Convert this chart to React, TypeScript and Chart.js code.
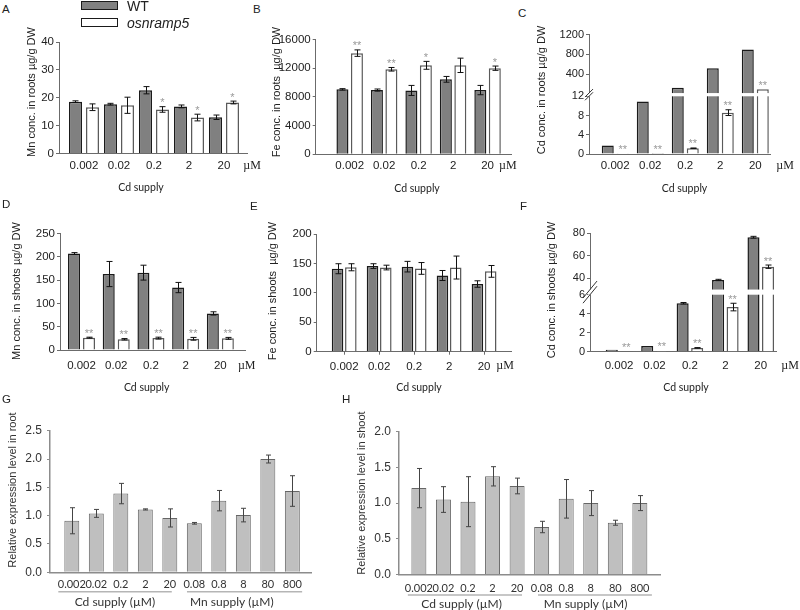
import React, { useEffect, useRef } from "react";
import { Chart, registerables, LinearScale } from "chart.js";

Chart.register(...registerables);

// ---------- data ----------
const cdSupply = ["0.002", "0.02", "0.2", "2", "20"];
const mnSupply = ["0.08", "0.8", "8", "80", "800"];
const exprLabels = [...cdSupply, ...mnSupply];

// A: Mn in roots
const mnRootWT = [18.6, 17.7, 22.7, 16.9, 13.0];
const mnRootWTErr = [0.3, 0.3, 1.3, 0.5, 0.8];
const mnRootMut = [16.6, 17.3, 15.8, 12.9, 18.3];
const mnRootMutErr = [1.2, 2.9, 1.0, 1.2, 0.5];
const mnRootSig = ["", "", "*", "*", "*"];
const mnRootTicks = [0, 10, 20, 30, 40];

// B: Fe in roots
const feRootWT = [9050, 8950, 8900, 10450, 8950];
const feRootWTErr = [100, 150, 700, 400, 650];
const feRootMut = [14100, 11850, 12400, 12400, 12000];
const feRootMutErr = [450, 250, 550, 1000, 300];
const feRootSig = ["**", "**", "*", "", "*"];
const feRootTicks = [0, 4000, 8000, 12000, 16000];

// C: Cd in roots (broken axis)
const cdRootWT = [1.75, 10.9, 122, 515, 900];
const cdRootWTErr = [0, 0, 0, 0, 0];
const cdRootMut = [0.05, 0.2, 1.2, 8.6, 88];
const cdRootMutErr = [0, 0, 0.05, 0.6, 0];
const cdRootSig = ["**", "**", "**", "**", "**"];
const cdRootTicks = [0, 4, 8, 12, 400, 800, 1200];

// D: Mn in shoots
const mnShootWT = [207, 163, 166, 134, 78.5];
const mnShootWTErr = [2, 27, 16, 11, 3.5];
const mnShootMut = [26.5, 23, 25.5, 24, 25];
const mnShootMutErr = [1, 1.5, 2, 3, 2];
const mnShootSig = ["**", "**", "**", "**", "**"];
const mnShootTicks = [0, 50, 100, 150, 200, 250];

// E: Fe in shoots
const feShootWT = [141, 145.5, 144.5, 129.5, 115];
const feShootWTErr = [8.5, 4, 9, 8.5, 5.5];
const feShootMut = [143.5, 143, 141.5, 143, 136.5];
const feShootMutErr = [6, 4, 10, 19.5, 10];
const feShootTicks = [0, 50, 100, 150, 200];

// F: Cd in shoots (broken axis)
const cdShootWT = [0.2, 0.6, 5.1, 38.5, 76.5];
const cdShootWTErr = [0, 0, 0.08, 0.6, 0.8];
const cdShootMut = [0.03, 0.08, 0.4, 4.7, 50.3];
const cdShootMutErr = [0, 0, 0.03, 0.4, 1.5];
const cdShootSig = ["**", "**", "**", "**", "**"];
const cdShootTicks = [0, 2, 4, 6, 40, 60, 80];

// G / H: relative expression
const exprRoot = [0.91, 1.04, 1.39, 1.11, 0.96, 0.865, 1.265, 1.01, 2.0, 1.435];
const exprRootErr = [0.23, 0.07, 0.18, 0.01, 0.16, 0.015, 0.18, 0.12, 0.07, 0.27];
const exprRootTicks = [0, 0.5, 1, 1.5, 2, 2.5];
const exprShoot = [1.21, 1.05, 1.02, 1.375, 1.24, 0.665, 1.06, 1.0, 0.725, 1.0];
const exprShootErr = [0.275, 0.18, 0.35, 0.135, 0.11, 0.08, 0.27, 0.175, 0.035, 0.105];
const exprShootTicks = [0, 0.5, 1, 1.5, 2];

// ---------- broken linear scale ----------
class BrokenLinearScale extends LinearScale {
  static id = "brokenLinear";
  static defaults = (LinearScale as any).defaults;
  brkDec(value: number): number {
    const b = (this.options as any).brk;
    const min = (this as any).min, max = (this as any).max;
    if (value <= b.low) return ((value - min) / (b.low - min)) * b.lowFrac;
    if (value < b.high) return b.lowFrac + ((value - b.low) / (b.high - b.low)) * (b.highFrac - b.lowFrac);
    return b.highFrac + ((value - b.high) / (max - b.high)) * (1 - b.highFrac);
  }
  getPixelForValue(value: number) {
    if (value === null || value === undefined || isNaN(value)) return NaN;
    return (this as any).getPixelForDecimal(this.brkDec(value));
  }
  getValueForPixel(pixel: number) {
    const b = (this.options as any).brk;
    const min = (this as any).min, max = (this as any).max;
    const d = (this as any).getDecimalForPixel(pixel);
    if (d <= b.lowFrac) return min + (d / b.lowFrac) * (b.low - min);
    if (d < b.highFrac) return b.low + ((d - b.lowFrac) / (b.highFrac - b.lowFrac)) * (b.high - b.low);
    return b.high + ((d - b.highFrac) / (1 - b.highFrac)) * (max - b.high);
  }
}
Chart.register(BrokenLinearScale as any);

Chart.defaults.font.family = "'Liberation Sans', Arial, sans-serif";

// ---------- styles ----------
const DARK = { fill: "#808080", stroke: "#1a1a1a", strokeW: 1.5 };
const LIGHT = { fill: "#ffffff", stroke: "#5a5a5a", strokeW: 1.5 };
const GREY = { fill: "#bfbfbf", stroke: "#666666", strokeW: 1 };
const AXIS = "#6b6b6b";

type Series = { values: number[]; errs: number[]; sig?: string[]; fill: string; stroke: string; strokeW: number };
type PanelSpec = {
  id: string;
  box: number[];
  area: number[];
  xMin: number;
  xMax: number;
  labels: string[];
  xFont: number;
  xFamily: string;
  xPad: number;
  xTicks?: boolean;
  yMax: number;
  yTicks: number[];
  yFmt?: (v: number) => string;
  yFont: number;
  yPad: number;
  yTickLen: number;
  brk?: { low: number; high: number; lowFrac: number; highFrac: number; slash: number[] };
  yTitle: { text: string; x: number; y: number; size: number };
  unit?: { pos: number; y: number };
  series: Series[];
  cp: number;
  bp: number;
  axisColor: string;
  axisWidth: number;
  errColor: string;
  cap: number;
  textColor: string;
  groups?: { from: number; to: number; label: string; at: number }[];
  groupLineY?: number;
  groupLabelY?: number;
};

const topCommon = {
  xFont: 11.5,
  xFamily: "'Liberation Sans', Arial, sans-serif",
  yFont: 11.5,
  yPad: 2,
  yTickLen: 3,
  axisColor: AXIS,
  axisWidth: 1,
  errColor: "#111",
  cap: 3,
  textColor: "#222",
  labels: cdSupply,
};

const panels: PanelSpec[] = [
  {
    ...topCommon,
    id: "A",
    box: [0, 20, 262, 180],
    area: [59, 42, 247, 153.5],
    xMin: -0.714,
    xMax: 4.657,
    xPad: 5.6,
    yMax: 40,
    yTicks: mnRootTicks,
    yTitle: { text: "Mn conc. in roots µg/g DW", x: 32, y: 92, size: 11 },
    unit: { pos: 4.8, y: 166 },
    series: [
      { values: mnRootWT, errs: mnRootWTErr, ...DARK },
      { values: mnRootMut, errs: mnRootMutErr, sig: mnRootSig, ...LIGHT },
    ],
    cp: 0.971,
    bp: 0.765,
  },
  {
    ...topCommon,
    id: "B",
    box: [262, 20, 266, 180],
    area: [315.7, 39.5, 511.7, 154.3],
    xMin: -0.986,
    xMax: 4.7,
    xPad: 5,
    yMax: 16000,
    yTicks: feRootTicks,
    yTitle: { text: "Fe conc. in roots  µg/g DW", x: 276.7, y: 92, size: 11 },
    unit: { pos: 4.59, y: 166 },
    series: [
      { values: feRootWT, errs: feRootWTErr, ...DARK },
      { values: feRootMut, errs: feRootMutErr, sig: feRootSig, ...LIGHT },
    ],
    cp: 0.84,
    bp: 0.83,
  },
  {
    ...topCommon,
    id: "C",
    box: [528, 20, 272, 180],
    area: [589, 34.7, 770, 154],
    xMin: -0.75,
    xMax: 4.42,
    xPad: 5,
    yMax: 1200,
    yTicks: cdRootTicks,
    yFont: 11,
    brk: { low: 12, high: 12, lowFrac: 0.4837, highFrac: 0.5108, slash: [4, 4] },
    yTitle: { text: "Cd conc. in roots µg/g DW", x: 541.7, y: 90, size: 11 },
    unit: { pos: 4.85, y: 166 },
    series: [
      { values: cdRootWT, errs: cdRootWTErr, ...DARK },
      { values: cdRootMut, errs: cdRootMutErr, sig: cdRootSig, ...LIGHT },
    ],
    cp: 0.857,
    bp: 0.8,
  },
  {
    ...topCommon,
    id: "D",
    box: [0, 215, 262, 180],
    area: [60, 233.5, 245, 350],
    xMin: -0.62,
    xMax: 4.71,
    xPad: 9,
    yMax: 250,
    yTicks: mnShootTicks,
    yTitle: { text: "Mn conc. in shoots µg/g DW", x: 17, y: 291, size: 11 },
    unit: { pos: 4.76, y: 366 },
    series: [
      { values: mnShootWT, errs: mnShootWTErr, ...DARK },
      { values: mnShootMut, errs: mnShootMutErr, sig: mnShootSig, ...LIGHT },
    ],
    cp: 0.865,
    bp: 0.8,
  },
  {
    ...topCommon,
    id: "E",
    box: [262, 215, 266, 180],
    area: [316.7, 234, 511.7, 351.7],
    xMin: -0.786,
    xMax: 4.79,
    xPad: 5,
    xTicks: true,
    yMax: 200,
    yTicks: feShootTicks,
    yTitle: { text: "Fe conc. in shoots  µg/g DW", x: 273, y: 291, size: 11 },
    unit: { pos: 4.6, y: 366 },
    series: [
      { values: feShootWT, errs: feShootWTErr, ...DARK },
      { values: feShootMut, errs: feShootMutErr, ...LIGHT },
    ],
    cp: 0.76,
    bp: 0.87,
  },
  {
    ...topCommon,
    id: "F",
    box: [528, 215, 272, 180],
    area: [590, 233.3, 776.7, 351.7],
    xMin: -0.82,
    xMax: 4.45,
    xPad: 7.5,
    yMax: 80,
    yTicks: cdShootTicks,
    yFont: 11,
    brk: { low: 6, high: 30, lowFrac: 0.4814, highFrac: 0.5249, slash: [7, 8.5] },
    yTitle: { text: "Cd conc. in shoots µg/g DW", x: 551.7, y: 290, size: 11 },
    unit: { pos: 4.83, y: 366 },
    series: [
      { values: cdShootWT, errs: cdShootWTErr, ...DARK },
      { values: cdShootMut, errs: cdShootMutErr, sig: cdShootSig, ...LIGHT },
    ],
    cp: 0.82,
    bp: 0.83,
  },
  {
    id: "G",
    box: [0, 395, 340, 215],
    area: [50, 430.7, 311.7, 572.3],
    xMin: -0.89,
    xMax: 9.79,
    labels: exprLabels,
    xFont: 11,
    xFamily: "Lato, 'Open Sans', sans-serif",
    xPad: 6,
    yMax: 2.5,
    yTicks: exprRootTicks,
    yFmt: (v) => v.toFixed(1),
    yFont: 12,
    yPad: 5,
    yTickLen: 3,
    yTitle: { text: "Relative expression level in root", x: 13, y: 490, size: 11 },
    series: [{ values: exprRoot, errs: exprRootErr, ...GREY }],
    cp: 1,
    bp: 0.61,
    axisColor: "#8c8c8c",
    axisWidth: 1.5,
    errColor: "#444",
    cap: 2.5,
    textColor: "#333",
    groups: [
      { from: -0.55, to: 4.08, label: "Cd supply (µM)", at: 1.76 },
      { from: 4.7, to: 9.4, label: "Mn supply (µM)", at: 6.53 },
    ],
    groupLineY: 591.7,
    groupLabelY: 601.7,
  },
  {
    id: "H",
    box: [340, 395, 340, 215],
    area: [399, 431.7, 660, 574.5],
    xMin: -0.81,
    xMax: 9.82,
    labels: exprLabels,
    xFont: 11,
    xFamily: "Lato, 'Open Sans', sans-serif",
    xPad: 7,
    yMax: 2.0,
    yTicks: exprShootTicks,
    yFmt: (v) => v.toFixed(1),
    yFont: 12,
    yPad: 5,
    yTickLen: 3,
    yTitle: { text: "Relative expression level in shoot", x: 361.7, y: 493, size: 11 },
    series: [{ values: exprShoot, errs: exprShootErr, ...GREY }],
    cp: 1,
    bp: 0.61,
    axisColor: "#8c8c8c",
    axisWidth: 1.5,
    errColor: "#444",
    cap: 2.5,
    textColor: "#333",
    groups: [
      { from: -0.45, to: 4.2, label: "Cd supply (µM)", at: 1.74 },
      { from: 4.85, to: 9.49, label: "Mn supply (µM)", at: 6.79 },
    ],
    groupLineY: 595,
    groupLabelY: 604,
  },
];

function makeChart(canvas: HTMLCanvasElement, p: PanelSpec) {
  const [bl, bt, bw, bh] = p.box;
  const [al, at, ar, ab] = p.area;
  const yW = al - bl;
  const padT = at - bt;
  const padR = bl + bw - ar;
  const xH = bt + bh - ab;

  const deco = {
    id: "deco" + p.id,
    afterDatasetsDraw(chart: any) {
      const ctx = chart.ctx;
      const ys = chart.scales.y;
      const ca = chart.chartArea;
      ctx.save();
      if (p.brk) {
        const lowPix = ys.getPixelForDecimal(p.brk.lowFrac);
        const highPix = ys.getPixelForDecimal(p.brk.highFrac);
        ctx.fillStyle = "#ffffff";
        ctx.fillRect(ca.left - 2, highPix, ca.right - ca.left + 2, lowPix - highPix);
        ctx.strokeStyle = "#333";
        ctx.lineWidth = 1;
        const [dx, dy] = p.brk.slash;
        for (const y of [lowPix, highPix]) {
          ctx.beginPath();
          ctx.moveTo(ca.left - dx, y + dy);
          ctx.lineTo(ca.left + dx, y - dy);
          ctx.stroke();
        }
      }
      p.series.forEach((s, d) => {
        const meta = chart.getDatasetMeta(d);
        meta.data.forEach((el: any, i: number) => {
          const v = s.values[i];
          const e = s.errs[i];
          const x = Math.round(el.x) + 0.5;
          let top = ys.getPixelForValue(v);
          if (e > 0) {
            const y1 = ys.getPixelForValue(v + e);
            const y2 = ys.getPixelForValue(Math.max(v - e, 0));
            ctx.strokeStyle = p.errColor;
            ctx.lineWidth = 1;
            ctx.beginPath();
            ctx.moveTo(x, y1);
            ctx.lineTo(x, y2);
            ctx.moveTo(x - p.cap, y1);
            ctx.lineTo(x + p.cap, y1);
            ctx.moveTo(x - p.cap, y2);
            ctx.lineTo(x + p.cap, y2);
            ctx.stroke();
            top = y1;
          }
          const sg = s.sig ? s.sig[i] : "";
          if (sg) {
            ctx.fillStyle = "#999";
            ctx.font = "11px 'Liberation Sans', Arial, sans-serif";
            ctx.textAlign = "center";
            ctx.textBaseline = "alphabetic";
            ctx.fillText(sg, el.x, top - 0.5);
          }
        });
      });
      ctx.restore();
    },
    afterDraw(chart: any) {
      const ctx = chart.ctx;
      const xs = chart.scales.x;
      ctx.save();
      ctx.fillStyle = p.textColor;
      ctx.save();
      ctx.font = `${p.yTitle.size}px 'Liberation Sans', Arial, sans-serif`;
      ctx.translate(p.yTitle.x - bl, p.yTitle.y - bt);
      ctx.rotate(-Math.PI / 2);
      ctx.textAlign = "center";
      ctx.textBaseline = "middle";
      ctx.fillText(p.yTitle.text, 0, 0);
      ctx.restore();
      if (p.unit) {
        ctx.font = "12px 'Liberation Serif', 'Times New Roman', serif";
        ctx.textAlign = "center";
        ctx.textBaseline = "middle";
        ctx.fillText("µM", xs.getPixelForValue(p.unit.pos), p.unit.y - bt);
      }
      if (p.groups) {
        for (const g of p.groups) {
          const x1 = xs.getPixelForValue(g.from);
          const x2 = xs.getPixelForValue(g.to);
          ctx.strokeStyle = "#b5b5b5";
          ctx.lineWidth = 1.5;
          ctx.beginPath();
          ctx.moveTo(x1, (p.groupLineY as number) - bt);
          ctx.lineTo(x2, (p.groupLineY as number) - bt);
          ctx.stroke();
          ctx.font = "12px Lato, 'Open Sans', sans-serif";
          ctx.textAlign = "center";
          ctx.textBaseline = "middle";
          ctx.fillStyle = p.textColor;
          ctx.fillText(g.label, xs.getPixelForValue(g.at), (p.groupLabelY as number) - bt);
        }
      }
      ctx.restore();
    },
  };

  return new Chart(canvas, {
    type: "bar",
    data: {
      datasets: p.series.map((s) => ({
        data: s.values.map((v, i) => ({ x: i, y: v })),
        backgroundColor: s.fill,
        borderColor: s.stroke,
        borderWidth: s.strokeW,
        barPercentage: p.bp,
        categoryPercentage: p.cp,
      })),
    },
    options: {
      responsive: false,
      animation: false,
      devicePixelRatio: 1,
      layout: { padding: { left: 0, top: padT, right: padR, bottom: 0 } },
      plugins: { legend: { display: false }, tooltip: { enabled: false }, title: { display: false } },
      scales: {
        x: {
          type: "linear",
          offset: false,
          bounds: "data",
          min: p.xMin,
          max: p.xMax,
          afterBuildTicks: (ax: any) => {
            ax.ticks = p.labels.map((_, i) => ({ value: i }));
          },
          afterFit: (ax: any) => {
            ax.height = xH;
          },
          grid: {
            display: !!p.xTicks,
            offset: false,
            drawOnChartArea: false,
            drawTicks: !!p.xTicks,
            tickLength: 3,
            color: p.axisColor,
          },
          border: { display: true, color: p.axisColor, width: p.axisWidth },
          ticks: {
            autoSkip: false,
            maxRotation: 0,
            minRotation: 0,
            padding: p.xPad,
            color: p.textColor,
            font: { size: p.xFont, family: p.xFamily },
            callback: (_v: any, i: number) => p.labels[i],
          },
        },
        y: {
          type: p.brk ? "brokenLinear" : "linear",
          min: 0,
          max: p.yMax,
          brk: p.brk ? { low: p.brk.low, high: p.brk.high, lowFrac: p.brk.lowFrac, highFrac: p.brk.highFrac } : undefined,
          afterBuildTicks: (ax: any) => {
            ax.ticks = p.yTicks.map((v) => ({ value: v }));
          },
          afterFit: (ax: any) => {
            ax.width = yW;
          },
          grid: {
            display: true,
            drawOnChartArea: false,
            drawTicks: true,
            tickLength: p.yTickLen,
            color: p.axisColor,
          },
          border: { display: true, color: p.axisColor, width: p.axisWidth },
          ticks: {
            autoSkip: false,
            padding: p.yPad,
            color: p.textColor,
            font: { size: p.yFont },
            callback: (v: any) => (p.yFmt ? p.yFmt(Number(v)) : String(v)),
          },
        },
      } as any,
    },
    plugins: [deco],
  } as any);
}

function Panel({ spec }: { spec: PanelSpec }) {
  const ref = useRef<HTMLCanvasElement | null>(null);
  useEffect(() => {
    if (!ref.current) return;
    const ch = makeChart(ref.current, spec);
    return () => ch.destroy();
  }, [spec]);
  const [l, t, w, h] = spec.box;
  return (
    <canvas
      ref={ref}
      width={w}
      height={h}
      style={{ position: "absolute", left: l, top: t, width: w, height: h }}
    />
  );
}

const letters = [
  { t: "A", x: 2, y: 3 },
  { t: "B", x: 253, y: 3 },
  { t: "C", x: 518, y: 7 },
  { t: "D", x: 2, y: 198 },
  { t: "E", x: 250, y: 200 },
  { t: "F", x: 520, y: 200 },
  { t: "G", x: 2, y: 393 },
  { t: "H", x: 342, y: 393 },
];

const supplyLabels = [
  { x: 141, y: 187 },
  { x: 417, y: 188 },
  { x: 684.5, y: 188 },
  { x: 146.7, y: 386.7 },
  { x: 419, y: 387 },
  { x: 686, y: 387 },
];

export default function App() {
  return (
    <div
      style={{
        position: "absolute",
        left: 0,
        top: 0,
        width: 800,
        height: 610,
        background: "#ffffff",
        overflow: "hidden",
        fontFamily: "'Liberation Sans', Arial, sans-serif",
        color: "#222",
      }}
    >
      {panels.map((p) => (
        <Panel key={p.id} spec={p} />
      ))}
      {letters.map((l) => (
        <div
          key={l.t}
          style={{ position: "absolute", left: l.x, top: l.y, fontSize: 11.5, lineHeight: "12px" }}
        >
          {l.t}
        </div>
      ))}
      {supplyLabels.map((s, i) => (
        <div
          key={i}
          style={{
            position: "absolute",
            left: s.x - 40,
            top: s.y - 7,
            width: 80,
            textAlign: "center",
            fontFamily: "Lato, 'Open Sans', sans-serif",
            fontSize: 10.5,
            lineHeight: "14px",
          }}
        >
          Cd supply
        </div>
      ))}
      <div
        style={{
          position: "absolute",
          left: 81,
          top: 1,
          width: 37,
          height: 9,
          boxSizing: "border-box",
          background: "#808080",
          border: "1.5px solid #1a1a1a",
        }}
      />
      <div style={{ position: "absolute", left: 127, top: -1, fontSize: 14, lineHeight: "14px" }}>WT</div>
      <div
        style={{
          position: "absolute",
          left: 81,
          top: 18,
          width: 37,
          height: 9,
          boxSizing: "border-box",
          background: "#ffffff",
          border: "1.5px solid #1a1a1a",
        }}
      />
      <div
        style={{ position: "absolute", left: 127, top: 16, fontSize: 14, lineHeight: "14px", fontStyle: "italic" }}
      >
        osnramp5
      </div>
    </div>
  );
}
